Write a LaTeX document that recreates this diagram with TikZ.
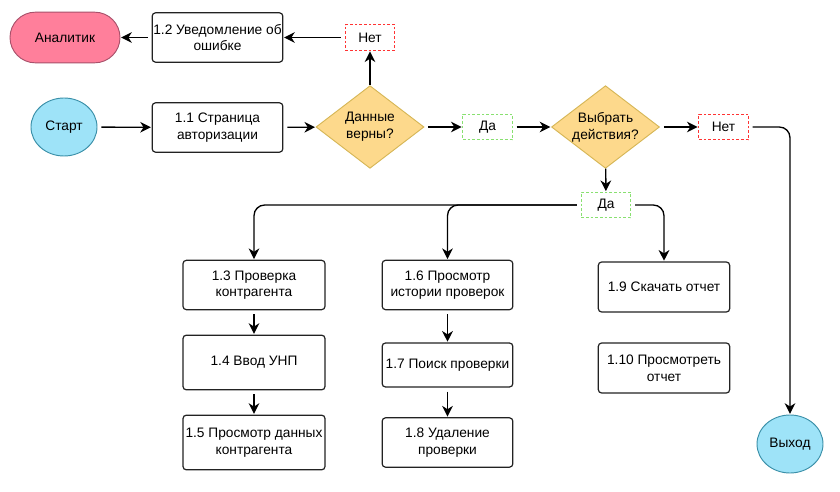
\documentclass[tikz,border=0pt]{standalone}
\usepackage{fontspec}
\setmainfont{Liberation Sans}
\usetikzlibrary{shapes.geometric,arrows.meta}
\definecolor{pinkfill}{HTML}{FF7F9B}
\definecolor{pinkline}{HTML}{A8506A}
\definecolor{bluefill}{HTML}{9EE3F8}
\definecolor{blueline}{HTML}{3A8FA8}
\definecolor{yelfill}{HTML}{FDD98C}
\definecolor{yelline}{HTML}{D6B656}
\definecolor{redd}{HTML}{FF3333}
\definecolor{greend}{HTML}{88E070}
\definecolor{boxline}{HTML}{222222}
\tikzset{
  every node/.style={font=\fontsize{10.3pt}{12.5pt}\selectfont, align=center, inner sep=0pt},
  procbox/.style={draw=boxline, line width=0.9pt, rounded corners=2.5pt, fill=white},
  term/.style={ellipse, draw=blueline, fill=bluefill, line width=0.7pt, minimum width=49.5pt, minimum height=43.5pt},
  decis/.style={diamond, draw=yelline, fill=yelfill, line width=0.7pt, minimum width=81pt, minimum height=62pt, aspect=1.3},
  nolabel/.style={draw=redd, dashed, dash pattern=on 2pt off 1.5pt, line width=0.8pt, minimum width=37pt, minimum height=19pt, fill=white},
  yeslabel/.style={draw=greend, dashed, dash pattern=on 2pt off 1.5pt, line width=0.8pt, minimum width=37pt, minimum height=19pt, fill=white},
  conn/.style={draw=black, line width=1pt, -{Stealth[length=8pt,width=8pt,inset=2.5pt]}, shorten >=0.5pt, shorten <=3pt},
}
\begin{document}
\begin{tikzpicture}[x=0.75pt,y=-0.75pt]
\useasboundingbox (0,0) rectangle (840,492);
% top rows
\node[draw=pinkline, fill=pinkfill, line width=0.7pt, rounded corners=19pt, minimum width=82.5pt, minimum height=38pt] (anal) at (65,37.5) {Аналитик};
\node[procbox, minimum width=98pt, minimum height=37pt] (n12) at (217.5,37.5) {1.2 Уведомление об\\ошибке};
\node[nolabel] (no1) at (370,37.5) {Нет};
\node[term] (start) at (64,127) {Старт};
\node[procbox, minimum width=98pt, minimum height=37pt] (n11) at (217.5,127.5) {1.1 Страница\\авторизации};
\node[decis] (d1) at (370,127) {Данные\\верны?};
\node[yeslabel] (yes1) at (487.5,127) {Да};
\node[decis] (d2) at (605.5,127) {Выбрать\\действия?};
\node[nolabel] (no2) at (723.5,127) {Нет};
\node[yeslabel] (yes2) at (606,205) {Да};
% columns
\node[procbox, minimum width=106.5pt, minimum height=37pt] (n13) at (254,285) {1.3 Проверка\\контрагента};
\node[procbox, minimum width=106.5pt, minimum height=41pt] (n14) at (254,362.5) {1.4 Ввод УНП};
\node[procbox, minimum width=106.5pt, minimum height=41pt] (n15) at (254,442.5) {1.5 Просмотр данных\\контрагента};
\node[procbox, minimum width=98pt, minimum height=37pt] (n16) at (447.5,285) {1.6 Просмотр\\истории проверок};
\node[procbox, minimum width=98pt, minimum height=33pt] (n17) at (447.5,365) {1.7 Поиск проверки};
\node[procbox, minimum width=98pt, minimum height=37pt] (n18) at (447.5,442.5) {1.8 Удаление\\проверки};
\node[procbox, minimum width=98.5pt, minimum height=37.5pt] (n19) at (664,287) {1.9 Скачать отчет};
\node[procbox, minimum width=98.5pt, minimum height=37.5pt] (n110) at (664,368) {1.10 Просмотреть\\отчет};
\node[term] (exit) at (790,444) {Выход};
% connectors
\draw[conn] (start) -- (n11);
\draw[conn] (n11) -- (d1);
\draw[conn] (d1) -- (yes1);
\draw[conn] (yes1) -- (d2);
\draw[conn] (d2) -- (no2);
\draw[conn, shorten <=0pt] (d1) -- (no1);
\draw[conn] (no1) -- (n12);
\draw[conn] (n12) -- (anal);
\draw[conn, shorten <=0pt] (d2) -- (yes2);
\draw[conn, rounded corners=8pt] (no2.east) -| (exit.north);
\draw[conn, rounded corners=8pt] (yes2.west) -| (n13.north);
\draw[conn, rounded corners=8pt] (yes2.west) -| (n16.north);
\draw[conn, rounded corners=8pt] (yes2.east) -| (n19.north);
\draw[conn] (n13) -- (n14);
\draw[conn] (n14) -- (n15);
\draw[conn] (n16) -- (n17);
\draw[conn] (n17) -- (n18);
\end{tikzpicture}
\end{document}
